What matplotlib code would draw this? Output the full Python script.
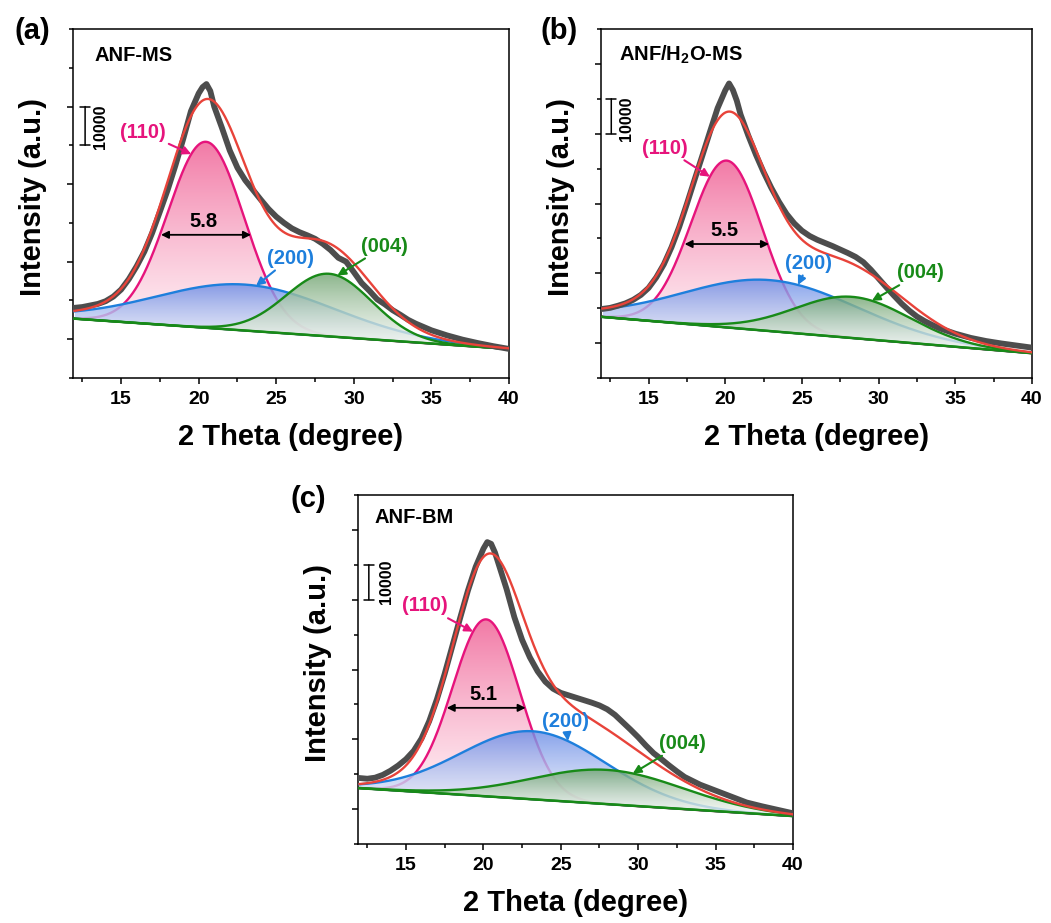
import numpy as np
import matplotlib
matplotlib.use("Agg")
import matplotlib.pyplot as plt
from matplotlib.colors import to_rgb
from matplotlib.ticker import MultipleLocator, FixedLocator

plt.rcParams["font.family"] = ["Liberation Sans", "DejaVu Sans"]
plt.rcParams["font.weight"] = "bold"
plt.rcParams["mathtext.fontset"] = "custom"
plt.rcParams["mathtext.rm"] = "Liberation Sans:bold"
plt.rcParams["mathtext.bf"] = "Liberation Sans:bold"

# ---- measured XRD profiles (2theta in degree, intensity in counts) ----
two_theta = [12, 12.5, 13, 13.5, 14, 14.5, 15, 15.5, 16, 16.5, 17, 17.5, 18, 18.5, 19, 19.5, 20,
             20.25, 20.5, 20.75,
             21, 21.5, 22, 22.5, 23, 23.5, 24, 24.5, 25, 25.5, 26, 26.5, 27, 27.5, 28, 28.5, 29, 29.5,
             30, 30.5, 31, 31.5, 32, 32.5, 33, 33.5, 34, 35, 36, 37, 38, 39, 40]
intensity_a = [28100, 28300, 28700, 29100, 29800, 31000, 32800, 35500, 38800, 42600, 47400, 52900, 58500,
               64800, 71600, 78800, 83400,
               85000, 85800, 84000,
               80000, 74500, 68700, 64200, 61000, 58500, 56000, 53600, 51600, 50000, 48600, 47600, 46800,
               45900, 44600, 43000, 41000, 40000, 37300, 34500, 32500, 30300, 29000, 27500, 26300, 25000,
               24000, 22300, 21000, 19900, 19000, 18200, 17500]
intensity_b = [19800, 20100, 20700, 21400, 22400, 23800, 25800, 28800, 32600, 37500, 43300, 49900, 56800,
               63600, 70500, 77300, 82400,
               84400, 82500, 79500,
               75500, 69500, 64000, 59000, 54500, 50500, 47000, 44300, 42200, 40700, 39600, 38700, 37800,
               36800, 35800, 34700, 33200, 31000, 28500, 26000, 23600, 21300, 19300, 17600, 16300, 15200,
               14200, 12700, 11500, 10600, 9900, 9300, 8700]
intensity_c = [18900, 18700, 19000, 19800, 21000, 22500, 24300, 26700, 30200, 35200, 41500, 48800, 56800,
               64800, 72600, 79400, 84600,
               86500, 86000, 83500,
               80000, 73000, 65000, 58500, 53500, 49500, 46500, 44500, 43300, 42600, 41900, 41200, 40500,
               39700, 38600, 37000, 34900, 32800, 30600, 28200, 26000, 24300, 22500, 20800, 19200, 18100,
               17000, 15300, 13600, 11900, 10800, 9800, 8800]

# ---- linear background (intensity at 12 and 40 degree) ----
baseline_ends_a = [25300, 17500]
baseline_ends_b = [17500, 7100]
baseline_ends_c = [16000, 8000]

# ---- fitted peaks: (110), (200), (004) ----
peak_names = ["(110)", "(200)", "(004)"]
centers_a = [20.47, 23.0, 28.4]
heights_a = [47970, 11850, 16150]
fwhm_a = [5.8, 13.5, 6.5]
centers_b = [20.1, 22.95, 28.3]
heights_b = [47800, 14600, 11800]
fwhm_b = [5.5, 13.4, 8.8]
centers_c = [20.18, 23.2, 28.0]
heights_c = [50700, 19500, 9800]
fwhm_c = [5.1, 11.0, 11.5]

sample_names = ["ANF-MS", r"ANF/H$_{\mathbf{2}}$O-MS", "ANF-BM"]
panel_tags = ["(a)", "(b)", "(c)"]

# ---- layout (figure pixels -> fractions) ----
W_PX, H_PX = 1051, 923
axes_rects = [[73 / W_PX, 545 / H_PX, 436 / W_PX, 349 / H_PX],
              [601 / W_PX, 545 / H_PX, 431 / W_PX, 349 / H_PX],
              [358 / W_PX, 79 / H_PX, 435 / W_PX, 349 / H_PX]]
tag_pos = [(15 / W_PX, 1 - 31 / H_PX), (540 / W_PX, 1 - 31 / H_PX), (290 / W_PX, 1 - 499 / H_PX)]
name_pos = [(0.050, 0.925), (0.042, 0.925), (0.037, 0.935)]
ylims = [(10000, 100000), (0, 100000), (0, 100000)]
major_y = [[20000, 40000, 60000, 80000], [10000, 30000, 50000, 70000, 90000],
           [10000, 30000, 50000, 70000, 90000]]
scalebar = [(12.68, 70000, 80000, 13.65, 74700), (12.57, 70000, 80000, 13.55, 74300),
            (12.6, 70000, 80000, 13.75, 75000)]
label_xy = [[(16.42, 73400), (25.9, 40900), (32.0, 44000)],
            [(16.09, 65900), (25.45, 32900), (32.75, 30100)],
            [(16.23, 68200), (25.33, 35200), (32.85, 28800)]]
arrow_tip_x = [[19.52, 23.7, 28.94], [19.0, 24.74, 29.56], [19.33, 25.46, 29.65]]

line_cols = ["#e6147c", "#1e7fdc", "#188a18"]
fill_top = ["#f27aa6", "#6a8ce6", "#6fa36f"]
fill_bot = ["#fff4f7", "#eef2fb", "#f3f6f3"]
fill_alpha = [1.0, 0.8, 0.8]

x_fit = np.linspace(12, 40, 700)


def gauss(x, c, h, w):
    return h * np.exp(-4 * np.log(2) * (x - c) ** 2 / w ** 2)


def grad_fill(ax, x, top, bottom, c_top, c_bot, alpha, z):
    poly = ax.fill_between(x, bottom, top, facecolor="none", edgecolor="none")
    t = np.linspace(0, 1, 256)[:, None]
    ct, cb = np.array(to_rgb(c_top)), np.array(to_rgb(c_bot))
    img = (cb + (ct - cb) * t ** 1.3)[:, None, :]
    im = ax.imshow(img, extent=[x.min(), x.max(), bottom.min(), top.max()], origin="lower",
                   aspect="auto", alpha=alpha, zorder=z, interpolation="bilinear")
    im.set_clip_path(poly.get_paths()[0], transform=ax.transData)


fig = plt.figure(figsize=(W_PX / 100, H_PX / 100), dpi=100)
panels = [(intensity_a, baseline_ends_a, centers_a, heights_a, fwhm_a),
          (intensity_b, baseline_ends_b, centers_b, heights_b, fwhm_b),
          (intensity_c, baseline_ends_c, centers_c, heights_c, fwhm_c)]

for i, (inten, bl, cen, hgt, fw) in enumerate(panels):
    ax = fig.add_axes(axes_rects[i])
    base_fn = lambda x, bl=bl: bl[0] + (bl[1] - bl[0]) * (np.asarray(x) - 12) / 28
    base = base_fn(x_fit)
    total = base.copy()
    for k in range(3):
        g = gauss(x_fit, cen[k], hgt[k], fw[k])
        comp = base + g
        total += g
        grad_fill(ax, x_fit, comp, base, fill_top[k], fill_bot[k], fill_alpha[k], 1 + 2 * k)
        ax.plot(x_fit, comp, color=line_cols[k], lw=1.7, zorder=2 + 2 * k)
        ax.plot(x_fit, base, color=line_cols[k], lw=1.5, zorder=2 + 2 * k)
        # label with arrow to the component curve
        tx = arrow_tip_x[i][k]
        ty = base_fn(tx) + gauss(tx, cen[k], hgt[k], fw[k])
        ax.annotate(peak_names[k], xy=(tx, ty), xytext=label_xy[i][k], color=line_cols[k],
                    fontsize=14.5, fontweight="bold", ha="center", va="center", zorder=12,
                    arrowprops=dict(arrowstyle="-|>", color=line_cols[k], lw=1.5, shrinkA=0,
                                    shrinkB=0, mutation_scale=12))
    ax.plot(x_fit, base, color=line_cols[2], lw=1.8, zorder=7)
    ax.plot(two_theta, inten, color="#4d4d4d", lw=4.2, zorder=8, solid_joinstyle="round")
    ax.plot(x_fit, total, color="#e8433a", lw=1.7, zorder=9)

    # FWHM of the (110) peak
    yh = base_fn(cen[0]) + hgt[0] / 2
    ax.annotate("", xy=(cen[0] - fw[0] / 2, yh), xytext=(cen[0] + fw[0] / 2, yh), zorder=11,
                arrowprops=dict(arrowstyle="<|-|>", color="black", lw=1.3, shrinkA=0, shrinkB=0,
                                mutation_scale=11))
    ax.annotate(f"{fw[0]:.1f}", xy=(cen[0] - 0.15, yh), xytext=(0, 3), textcoords="offset points",
                ha="center", va="bottom", fontsize=14.5, fontweight="bold", zorder=11)

    # 10000 counts scale bar
    sx, sy0, sy1, stx, sty = scalebar[i]
    ax.annotate("", xy=(sx, sy0), xytext=(sx, sy1),
                arrowprops=dict(arrowstyle="|-|,widthA=0.35,widthB=0.35", color="black", lw=1.1,
                                shrinkA=0, shrinkB=0))
    ax.text(stx, sty, "10000", rotation=90, ha="center", va="center", fontsize=11.5,
            fontweight="bold")

    ax.text(name_pos[i][0], name_pos[i][1], sample_names[i], transform=ax.transAxes,
            fontsize=14.5, fontweight="bold", va="center", ha="left")
    fig.text(tag_pos[i][0], tag_pos[i][1], panel_tags[i], fontsize=21, fontweight="bold",
             va="center", ha="left")

    ax.set_xlim(11.9, 40)
    ax.set_ylim(*ylims[i])
    ax.xaxis.set_major_locator(FixedLocator([15, 20, 25, 30, 35, 40]))
    ax.xaxis.set_minor_locator(MultipleLocator(2.5))
    ax.yaxis.set_major_locator(FixedLocator(major_y[i]))
    ax.yaxis.set_minor_locator(MultipleLocator(10000))
    ax.tick_params(which="both", direction="out", width=1.1, top=False, right=False)
    ax.tick_params(which="major", length=4.5)
    ax.tick_params(which="minor", length=2.6)
    ax.tick_params(axis="x", labelsize=14, pad=5)
    ax.tick_params(axis="y", labelleft=False)
    for lab in ax.get_xticklabels():
        lab.set_fontweight("bold")
    for sp in ax.spines.values():
        sp.set_linewidth(1.1)
    ax.set_xlabel("2 Theta (degree)", fontsize=21, fontweight="bold", labelpad=11)
    ax.set_ylabel("Intensity (a.u.)", fontsize=21, fontweight="bold")
    ax.yaxis.set_label_coords(-0.06, 0.52)

fig.savefig("out.png", dpi=100)
